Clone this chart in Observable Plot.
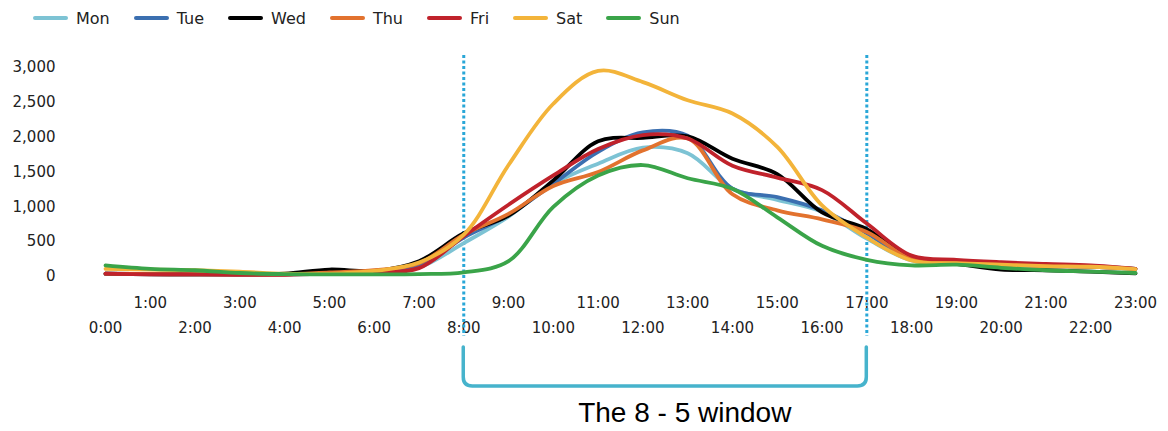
<!DOCTYPE html>
<html><head><meta charset="utf-8">
<script src="https://cdn.jsdelivr.net/npm/d3@7"></script>
<script src="https://cdn.jsdelivr.net/npm/@observablehq/plot@0.6"></script>
<style>
body{margin:0;background:#fff;font-family:"DejaVu Sans",sans-serif;}
#legend{height:34px;display:flex;align-items:center;padding-left:33px;font-size:16px;color:#222;box-sizing:border-box;padding-top:2px}
.item{display:flex;align-items:center;margin-right:24px}
.sw{width:35px;height:4px;margin-right:8px;border-radius:2px}
#chart svg{display:block}
</style></head><body>
<div id="legend"></div><div id="chart"></div>
<script>
const hours = [0,1,2,3,4,5,6,7,8,9,10,11,12,13,14,15,16,17,18,19,20,21,22,23];
const hourLabels = ["0:00","1:00","2:00","3:00","4:00","5:00","6:00","7:00","8:00","9:00","10:00","11:00","12:00","13:00","14:00","15:00","16:00","17:00","18:00","19:00","20:00","21:00","22:00","23:00"];
const days = ["Mon","Tue","Wed","Thu","Fri","Sat","Sun"];
const dayColors = ["#7dc3d4","#3b6fb0","#000000","#e2722e","#c0222b","#f3b43a","#3aa449"];
const yTicks = [0,500,1000,1500,2000,2500,3000];
const windowStart = 8, windowEnd = 17;
const windowLabel = "The 8 - 5 window";

const mon = [40,35,30,30,30,40,60,130,480,860,1330,1620,1850,1770,1260,1100,930,545,230,200,170,150,140,110];
const tue = [40,35,30,30,30,40,70,160,560,880,1330,1790,2070,2020,1260,1140,950,620,240,200,170,150,140,110];
const wed = [40,30,30,30,40,100,80,220,620,875,1380,1940,1990,2010,1690,1470,920,680,250,180,100,90,70,45];
const thu = [40,35,30,30,30,60,90,190,600,900,1300,1500,1810,1980,1180,950,820,640,250,200,170,150,140,110];
const fri = [40,30,30,25,25,40,60,120,580,1030,1450,1830,2030,1980,1590,1420,1240,760,300,240,205,180,160,110];
const sat = [110,100,90,70,40,40,80,200,600,1600,2480,2950,2790,2530,2340,1860,1020,560,230,190,170,150,140,105];
const sun = [160,110,90,50,35,30,30,35,60,220,1000,1450,1600,1410,1260,850,440,240,160,170,125,90,70,50];
const series = [mon,tue,wed,thu,fri,sat,sun];

const rows = days.flatMap((d,i) => hours.map((h,j) => ({day:d, hour:h, value:series[i][j]})));

// legend
const lg = document.getElementById("legend");
days.forEach((d,i) => {
  const it = document.createElement("div"); it.className="item";
  const sw = document.createElement("div"); sw.className="sw"; sw.style.background=dayColors[i];
  const t = document.createElement("span"); t.textContent=d;
  it.appendChild(sw); it.appendChild(t); lg.appendChild(it);
});

function bracket(index, scales, values, dim) {
  const x1 = scales.x(windowStart), x2 = scales.x(windowEnd);
  const yTop = dim.height - dim.marginBottom + 71;
  const yBot = yTop + 39;
  const r = 9;
  const g = d3.create("svg:g");
  g.append("path")
    .attr("d", `M${x1},${yTop}V${yBot-r}Q${x1},${yBot} ${x1+r},${yBot}H${x2-r}Q${x2},${yBot} ${x2},${yBot-r}V${yTop}`)
    .attr("fill","none").attr("stroke","#46b3cc").attr("stroke-width",3.5).attr("stroke-linecap","round");
  g.append("text").attr("x",(x1+x2)/2 + 20).attr("y", yBot + 36)
    .attr("text-anchor","middle").attr("font-family","Liberation Sans, Arial, sans-serif")
    .attr("font-size",28).attr("fill","#000").text(windowLabel);
  return g.node();
}

const chart = Plot.plot({
  width: 1168, height: 397,
  marginTop: 33, marginBottom: 155, marginLeft: 105, marginRight: 33,
  x: {domain: [0,23]},
  y: {domain: [0,3000]},
  color: {domain: days, range: dayColors},
  style: {fontFamily: "DejaVu Sans", fontSize: "15px", color: "#222", background: "#fff"},
  marks: [
    Plot.axisY({ticks: yTicks, tickFormat: d3.format(","), tickSize: 0, tickPadding: 50, fontSize: 15, label: null}),
    Plot.axisX({ticks: hours.filter(h => h % 2 === 1), tickFormat: h => hourLabels[h], tickSize: 0, tickPadding: 21, fontSize: 15, label: null}),
    Plot.axisX({ticks: hours.filter(h => h % 2 === 0), tickFormat: h => hourLabels[h], tickSize: 0, tickPadding: 46, fontSize: 15, label: null}),
    Plot.ruleX([windowStart, windowEnd], {stroke: "#2aa7d7", strokeWidth: 3, strokeDasharray: "3,2.5", insetTop: -12, insetBottom: -60}),
    Plot.line(rows, {x: "hour", y: "value", z: "day", stroke: "day", strokeWidth: 3.8, curve: "catmull-rom"}),
    bracket
  ]
});
document.getElementById("chart").appendChild(chart);
</script>
</body></html>
